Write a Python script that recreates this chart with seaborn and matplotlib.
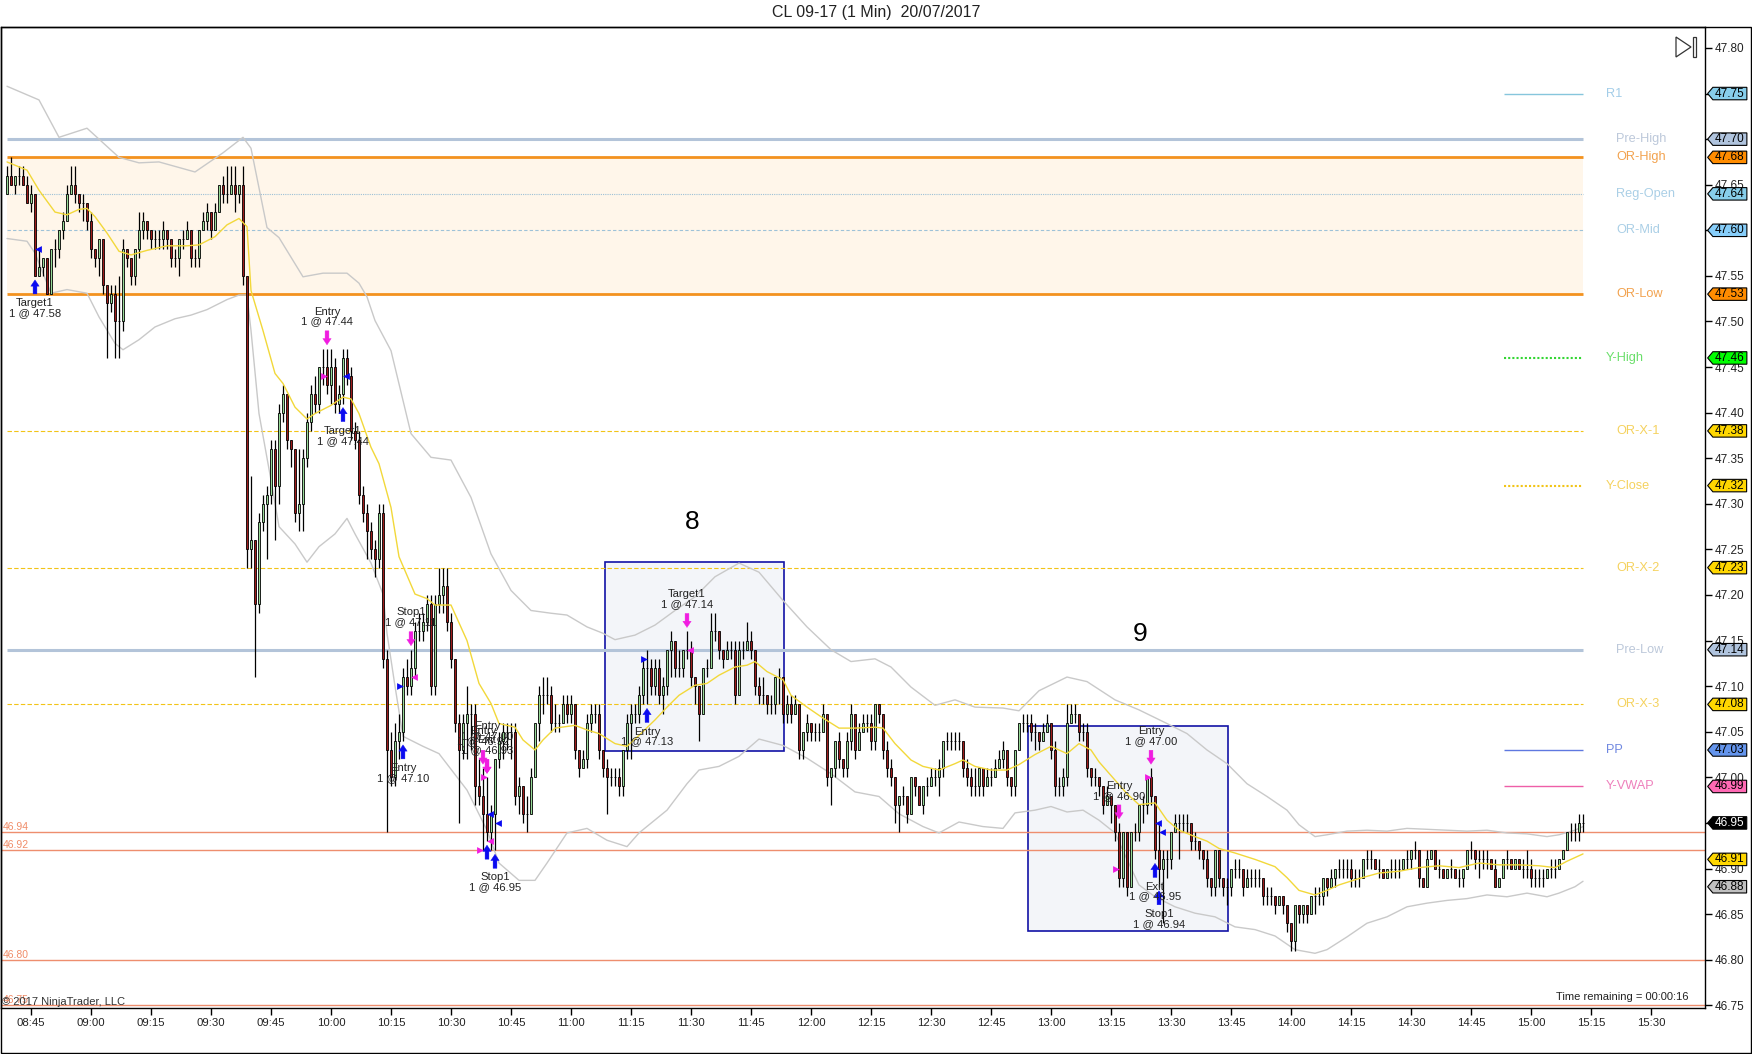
import numpy as np
import pandas as pd
import matplotlib
matplotlib.use("Agg")
import matplotlib.pyplot as plt
import matplotlib.transforms as mtransforms
from matplotlib.patches import Rectangle, Polygon
from matplotlib.path import Path
import seaborn as sns

# ---------------- data ----------------
# 1-minute bars from 08:39, prices in cents above 46.00
first_bar_time = "08:39"
first_open = 164
closes = [
    166, 165, 166, 166, 165, 163, 164, 155, 156, 157, 153, 158, 158, 160, 161,
    164, 165, 164, 163, 163, 161, 158, 157, 159, 154, 152, 153, 150, 150, 158,
    157, 155, 158, 160, 161, 160, 159, 159, 159, 160, 159, 157, 157, 159, 159,
    160, 157, 157, 160, 161, 162, 160, 162, 165, 164, 164, 165, 164, 165, 155,
    125, 126, 119, 128, 130, 131, 136, 132, 140, 142, 137, 136, 129, 130, 135,
    139, 142, 141, 145, 145, 143, 145, 141, 142, 146, 144, 138, 137, 131, 129,
    127, 125, 124, 129, 113, 103, 100, 104, 105, 111, 110, 112, 116, 116, 117,
    119, 110, 119, 120, 121, 117, 113, 106, 103, 106, 107, 107, 99, 98, 96,
    94, 96, 102, 104, 105, 105, 105, 98, 99, 96, 96, 100, 106, 109, 109,
    109, 106, 106, 106, 108, 107, 108, 103, 101, 102, 106, 107, 107, 103, 101,
    100, 100, 100, 99, 103, 106, 107, 107, 109, 112, 112, 110, 112, 109, 110,
    114, 115, 112, 112, 114, 114, 111, 110, 107, 112, 112, 116, 116, 114, 113,
    114, 114, 109, 114, 114, 115, 114, 110, 109, 109, 108, 108, 111, 111, 107,
    108, 107, 108, 103, 105, 106, 105, 105, 105, 107, 100, 101, 104, 102, 101,
    104, 107, 103, 105, 106, 106, 104, 108, 107, 103, 101, 100, 97, 98, 98,
    96, 100, 99, 97, 99, 99, 100, 100, 101, 104, 104, 104, 104, 104, 101,
    100, 99, 99, 101, 99, 100, 100, 101, 102, 103, 100, 99, 103, 106, 106,
    106, 105, 105, 104, 105, 106, 103, 99, 99, 100, 106, 107, 107, 105, 105,
    101, 100, 100, 99, 97, 98, 97, 94, 89, 94, 88, 94, 94, 97, 97,
    100, 98, 92, 90, 91, 91, 94, 95, 95, 95, 95, 93, 93, 92, 91,
    89, 88, 92, 89, 88, 88, 90, 90, 90, 88, 89, 89, 89, 89, 87,
    87, 87, 86, 87, 86, 84, 82, 86, 85, 86, 85, 87, 87, 87, 89,
    88, 89, 90, 90, 90, 90, 89, 89, 89, 91, 91, 91, 90, 90, 89,
    90, 90, 90, 90, 91, 91, 92, 92, 89, 88, 91, 92, 90, 90, 89,
    90, 90, 89, 89, 90, 92, 92, 91, 91, 91, 91, 90, 88, 89, 91,
    91, 90, 91, 90, 90, 90, 89, 89, 89, 89, 90, 90, 90, 91, 92,
    94, 94, 94, 95, 95,
]
highs = [
    167, 168, 166, 167, 167, 166, 165, 164, 158, 157, 157, 158, 159, 160, 162,
    165, 167, 167, 164, 164, 163, 162, 158, 159, 159, 154, 154, 154, 155, 159,
    158, 157, 158, 162, 162, 161, 160, 160, 160, 161, 160, 159, 158, 159, 160,
    161, 160, 158, 160, 162, 163, 162, 163, 165, 166, 167, 167, 167, 165, 167,
    155, 133, 126, 129, 131, 132, 137, 137, 141, 143, 142, 137, 136, 136, 136,
    140, 143, 144, 145, 147, 147, 147, 146, 143, 147, 147, 145, 139, 138, 132,
    130, 128, 126, 130, 130, 114, 105, 106, 107, 112, 113, 114, 117, 118, 118,
    120, 120, 120, 123, 123, 123, 118, 113, 107, 107, 110, 108, 108, 102, 101,
    100, 97, 102, 105, 106, 106, 106, 106, 100, 99, 98, 101, 106, 110, 111,
    111, 110, 108, 107, 109, 109, 109, 108, 103, 103, 107, 108, 108, 108, 102,
    102, 101, 101, 101, 103, 107, 108, 108, 110, 113, 114, 113, 113, 113, 111,
    114, 116, 115, 114, 114, 116, 115, 111, 110, 112, 113, 118, 118, 116, 114,
    115, 115, 115, 115, 115, 117, 116, 114, 111, 111, 109, 109, 111, 112, 111,
    109, 109, 109, 108, 105, 107, 106, 106, 106, 108, 107, 101, 104, 105, 102,
    105, 108, 107, 106, 107, 107, 107, 108, 108, 107, 104, 102, 100, 98, 99,
    98, 100, 100, 99, 99, 100, 101, 101, 102, 104, 105, 105, 105, 105, 104,
    102, 101, 101, 101, 101, 101, 101, 102, 103, 104, 103, 100, 103, 106, 107,
    107, 107, 106, 105, 106, 107, 106, 104, 100, 101, 108, 108, 108, 107, 106,
    106, 101, 101, 100, 99, 99, 98, 97, 95, 94, 94, 94, 95, 97, 98,
    100, 101, 98, 95, 92, 92, 94, 96, 96, 96, 96, 95, 94, 93, 92,
    92, 89, 92, 92, 89, 89, 90, 91, 91, 90, 90, 90, 90, 90, 89,
    88, 88, 87, 87, 87, 86, 84, 86, 86, 86, 86, 87, 88, 88, 89,
    89, 90, 90, 91, 91, 91, 91, 90, 90, 91, 92, 92, 91, 91, 90,
    90, 91, 91, 91, 91, 92, 92, 93, 92, 89, 92, 92, 92, 91, 90,
    90, 91, 90, 90, 90, 92, 93, 92, 92, 92, 92, 91, 91, 89, 91,
    92, 91, 91, 91, 91, 92, 91, 90, 90, 90, 90, 91, 91, 91, 92,
    94, 95, 95, 96, 96,
]
lows = [
    164, 165, 164, 165, 165, 163, 162, 155, 155, 155, 153, 153, 156, 157, 159,
    161, 164, 163, 162, 161, 160, 157, 156, 155, 153, 146, 151, 146, 146, 149,
    156, 154, 154, 157, 159, 159, 158, 158, 158, 158, 158, 156, 156, 155, 158,
    159, 156, 156, 156, 160, 160, 159, 160, 162, 163, 163, 164, 162, 163, 154,
    123, 123, 111, 118, 127, 124, 130, 126, 130, 139, 136, 134, 128, 127, 127,
    134, 138, 140, 140, 143, 142, 141, 140, 140, 141, 143, 137, 136, 130, 128,
    124, 124, 122, 123, 112, 94, 99, 99, 102, 104, 109, 109, 111, 115, 115,
    116, 109, 109, 118, 118, 116, 112, 105, 95, 102, 102, 103, 97, 97, 92,
    93, 92, 92, 101, 102, 103, 102, 97, 96, 95, 94, 96, 100, 104, 107,
    108, 105, 105, 105, 106, 106, 106, 102, 100, 101, 101, 105, 106, 102, 100,
    96, 99, 99, 98, 98, 102, 102, 106, 106, 108, 108, 109, 109, 108, 107,
    109, 111, 111, 111, 111, 113, 110, 108, 104, 107, 111, 112, 115, 113, 112,
    113, 113, 108, 109, 113, 114, 113, 109, 108, 108, 107, 107, 107, 108, 106,
    106, 106, 107, 102, 102, 104, 104, 104, 104, 105, 99, 97, 100, 101, 100,
    100, 103, 102, 103, 105, 105, 103, 103, 106, 102, 100, 99, 95, 94, 97,
    95, 96, 98, 97, 96, 98, 99, 99, 98, 100, 103, 103, 103, 103, 100,
    99, 98, 98, 98, 98, 99, 99, 100, 101, 101, 99, 98, 98, 103, 105,
    105, 104, 103, 103, 104, 105, 102, 98, 98, 98, 99, 106, 106, 104, 104,
    100, 99, 99, 98, 96, 97, 95, 93, 88, 88, 87, 88, 93, 93, 95,
    96, 97, 91, 88, 84, 89, 90, 94, 91, 94, 94, 92, 92, 91, 90,
    88, 87, 87, 88, 87, 86, 87, 89, 89, 87, 88, 88, 88, 88, 86,
    86, 86, 85, 86, 85, 83, 81, 81, 84, 84, 84, 85, 85, 86, 86,
    87, 88, 88, 89, 89, 89, 88, 88, 88, 89, 90, 90, 90, 89, 89,
    89, 89, 89, 89, 90, 90, 90, 91, 88, 88, 88, 91, 90, 89, 89,
    89, 89, 89, 88, 88, 90, 91, 90, 89, 90, 90, 90, 88, 88, 89,
    90, 90, 90, 90, 89, 89, 88, 88, 88, 88, 89, 89, 89, 90, 91,
    92, 93, 93, 93, 94,
]

# moving average (yellow) and channel (grey), read at sample bars, cents above 46.00
ma_bars = [0, 5, 8, 12, 15, 18, 20, 22, 25, 28, 31, 35, 40, 45, 48, 52, 55, 58, 60, 61,
           64, 67, 69, 72, 75, 77, 81, 84, 86, 88, 91, 93, 96, 98, 102, 105, 107, 111, 115, 118,
           121, 123, 127, 129, 132, 134, 137, 142, 145, 148, 152, 155, 158, 162, 165, 168, 172, 175, 178, 182,
           185, 187, 190, 194, 196, 200, 204, 208, 212, 217, 219, 222, 226, 229, 233, 237, 239, 242, 246, 250,
           253, 257, 261, 265, 268, 271, 273, 277, 280, 283, 287, 290, 293, 297, 300, 303, 307, 312, 317, 320,
           323, 327, 330, 333, 338, 343, 348, 353, 358, 363, 368, 373, 378, 383, 387, 390, 394]
ma_vals = [167.5, 166.6, 164.4, 162.0, 161.7, 162.3, 162.4, 161.5, 159.7, 157.7, 157.3, 157.8, 158.3, 158.3, 158.4, 159.3, 160.6, 161.3, 160.4, 153.4,
           149.0, 144.3, 143.2, 140.6, 139.3, 139.9, 140.8, 141.7, 141.5, 139.9, 136.2, 134.4, 129.6, 124.2, 120.1, 119.6, 118.9, 118.9, 115.0, 110.3,
           108.1, 105.9, 105.5, 104.1, 103.0, 104.1, 105.4, 105.7, 105.2, 104.8, 103.7, 103.4, 104.6, 106.3, 107.7, 109.0, 110.1, 110.3, 111.2, 112.1,
           112.3, 112.7, 111.6, 110.7, 109.0, 107.7, 106.5, 105.4, 105.4, 105.5, 105.4, 103.7, 101.9, 101.2, 100.8, 101.5, 101.9, 101.2, 100.8, 100.8,
           101.4, 102.5, 103.4, 102.6, 103.7, 103.0, 101.7, 99.7, 98.2, 97.0, 97.2, 95.3, 94.2, 93.5, 93.0, 92.2, 91.7, 91.0, 90.2, 89.0,
           87.6, 87.1, 87.6, 88.2, 88.9, 89.5, 89.7, 90.1, 90.3, 90.1, 90.6, 90.4, 90.4, 90.3, 90.1, 90.8, 91.6]
upper_bars = [0, 8, 13, 20, 28, 33, 38, 47, 54, 59, 61, 65, 68, 74, 79, 85, 88, 90, 92, 96,
              101, 106, 111, 116, 121, 126, 131, 136, 140, 145, 149, 152, 157, 162, 167, 172, 177, 183, 188, 194,
              200, 206, 211, 217, 221, 226, 232, 237, 242, 249, 253, 258, 265, 270, 277, 283, 290, 295, 300, 305,
              310, 315, 320, 323, 327, 330, 335, 340, 345, 350, 355, 360, 365, 370, 375, 380, 385, 388, 392, 394]
upper_vals = [175.8, 174.3, 170.2, 171.2, 168.0, 167.4, 167.5, 166.4, 168.5, 170.2, 169.0, 160.3, 159.2, 154.9, 155.3, 155.3, 154.2, 152.7, 150.1, 146.8,
              137.7, 135.1, 134.8, 130.7, 124.5, 120.5, 118.3, 118.0, 117.8, 116.5, 115.8, 115.1, 115.6, 116.7, 118.3, 119.8, 122.0, 123.5, 122.5, 119.4,
              116.5, 114.0, 112.7, 113.0, 112.1, 109.9, 107.9, 108.5, 107.7, 107.6, 107.3, 109.5, 111.0, 110.5, 108.5, 107.4, 105.9, 104.8, 103.0, 101.5,
              99.3, 97.9, 96.4, 94.8, 93.5, 93.7, 94.1, 94.2, 94.1, 94.4, 94.3, 94.2, 94.1, 94.2, 93.9, 93.8, 93.5, 93.7, 94.2, 94.6]
lower_bars = [0, 5, 7, 11, 15, 20, 23, 27, 29, 33, 37, 42, 46, 50, 55, 58, 60, 61, 63, 66,
              68, 72, 75, 78, 82, 85, 87, 91, 94, 95, 97, 99, 104, 108, 115, 120, 123, 128, 132, 135,
              140, 145, 150, 155, 158, 165, 170, 173, 178, 183, 188, 194, 200, 206, 212, 218, 223, 229, 233, 238,
              244, 249, 252, 257, 261, 265, 269, 273, 277, 280, 283, 287, 292, 297, 302, 307, 312, 317, 322, 327,
              330, 335, 340, 345, 350, 355, 360, 365, 370, 375, 380, 385, 388, 392, 394]
lower_vals = [159.1, 158.8, 157.5, 153.1, 153.5, 153.1, 150.5, 147.6, 146.9, 148.0, 149.4, 150.3, 150.7, 151.3, 152.4, 152.9, 152.9, 149.0, 139.9, 132.6,
              127.5, 125.6, 123.6, 125.3, 126.7, 128.4, 126.7, 123.5, 120.1, 115.8, 110.0, 104.5, 103.4, 102.6, 98.6, 94.2, 90.6, 88.7, 88.7, 90.6,
              93.9, 94.4, 93.1, 92.4, 93.9, 96.4, 99.3, 100.8, 101.2, 102.3, 104.2, 103.5, 102.1, 100.4, 98.4, 97.9, 96.0, 94.6, 93.9, 95.1,
              94.6, 94.4, 96.1, 96.4, 96.8, 96.2, 96.4, 95.3, 93.9, 91.0, 88.2, 86.9, 85.8, 85.1, 84.7, 83.6, 83.3, 82.6, 81.1, 80.7,
              81.1, 82.5, 84.0, 84.7, 85.8, 86.2, 86.5, 86.7, 87.1, 86.9, 87.3, 86.9, 87.3, 88.0, 88.6]

# key levels
level_names = ["R1", "Pre-High", "OR-High", "Reg-Open", "OR-Mid", "OR-Low", "Y-High",
               "OR-X-1", "Y-Close", "OR-X-2", "Pre-Low", "OR-X-3", "PP", "Y-VWAP"]
level_prices = [47.75, 47.70, 47.68, 47.64, 47.60, 47.53, 47.46,
                47.38, 47.32, 47.23, 47.14, 47.08, 47.03, 46.99]
opening_range = (47.53, 47.68)
marker_levels = [46.94, 46.92, 46.80, 46.75]

# price tags on the axis
tag_prices = [47.75, 47.70, 47.68, 47.64, 47.60, 47.53, 47.46, 47.38, 47.32,
              47.23, 47.14, 47.08, 47.03, 46.99, 46.95, 46.91, 46.88]

# executions ("" = fill without its own label)
trade_bars = [7, 80, 84, 99, 101, 119, 120, 120, 120, 122, 160, 170, 278, 286, 287, 288]
trade_prices = [47.58, 47.44, 47.44, 47.10, 47.11, 46.92, 46.93, 47.00, 46.96, 46.95,
                47.13, 47.14, 46.90, 47.00, 46.95, 46.94]
trade_sides = ["buy", "sell", "buy", "buy", "sell", "sell", "sell", "sell", "buy", "buy",
               "buy", "sell", "sell", "sell", "buy", "buy"]
trade_names = ["Target1", "Entry", "Target1", "Entry", "Stop1", "Entry", "Exit", "Entry", "", "Stop1",
               "Entry", "Target1", "Entry", "Entry", "Exit", "Stop1"]

# rectangles drawn on chart
box_bars = [(149.4, 194.35), (255.3, 305.3)]
box_prices = [(47.029, 47.236), (46.832, 47.056)]
box_names = ["8", "9"]
box_label_bars = [171.25, 283.2]
box_label_prices = [47.28, 47.157]

time_labels = ["08:45", "09:00", "09:15", "09:30", "09:45", "10:00", "10:15", "10:30",
               "10:45", "11:00", "11:15", "11:30", "11:45", "12:00", "12:15", "12:30",
               "12:45", "13:00", "13:15", "13:30", "13:45", "14:00", "14:15", "14:30",
               "14:45", "15:00", "15:15", "15:30"]
price_ticks = [46.75, 46.80, 46.85, 46.90, 46.95, 47.00, 47.05, 47.10, 47.15, 47.20, 47.25,
               47.30, 47.35, 47.40, 47.45, 47.50, 47.55, 47.60, 47.65, 47.70, 47.75, 47.80]

# ---------------- styles ----------------
level_style = {
    "R1":       dict(c="#86C6DC", t="#A3CDE8", lw=1.0, ls="-", short=True),
    "Pre-High": dict(c="#B3C4D9", t="#BCC8DA", lw=2.2, ls="-", short=False),
    "OR-High":  dict(c="#F3921E", t="#F2A24E", lw=2.0, ls="-", short=False),
    "Reg-Open": dict(c="#9CC0D6", t="#AACFE6", lw=0.8, ls=(0, (1, 1)), short=False),
    "OR-Mid":   dict(c="#9EC2D8", t="#AACFE6", lw=0.8, ls=(0, (3, 2)), short=False),
    "OR-Low":   dict(c="#F3921E", t="#F2A24E", lw=2.0, ls="-", short=False),
    "Y-High":   dict(c="#33D633", t="#6ADF6A", lw=1.5, ls=(0, (1, 1)), short=True),
    "OR-X-1":   dict(c="#F2C417", t="#F5D25E", lw=0.8, ls=(0, (4, 2)), short=False),
    "Y-Close":  dict(c="#F2C417", t="#F5D25E", lw=1.5, ls=(0, (1, 1)), short=True),
    "OR-X-2":   dict(c="#F2C417", t="#F5D25E", lw=0.8, ls=(0, (4, 2)), short=False),
    "Pre-Low":  dict(c="#B3C4D9", t="#BCC8DA", lw=2.2, ls="-", short=False),
    "OR-X-3":   dict(c="#F2C417", t="#F5D25E", lw=0.8, ls=(0, (4, 2)), short=False),
    "PP":       dict(c="#5E78E0", t="#7088E0", lw=1.0, ls="-", short=True),
    "Y-VWAP":   dict(c="#EE5FA8", t="#EE80BC", lw=1.0, ls="-", short=True),
}
tag_colors = ["#87CEEB", "#B0C4DE", "#FF8C00", "#87CEEB", "#87CEFA", "#FF8C00", "#00FF00",
              "#FFD700", "#FFD700", "#FFD700", "#B0C4DE", "#FFD700", "#6495ED", "#FF69B4",
              "black", "#FFD700", "#C0C0C0"]
UP, DOWN = "#97D997", "#9E1B1B"
SALMON = "#EE8E6E"
BUY, SELL = "#0A0AF0", "#F01CE0"

sns.set_theme(style="white")
plt.rcParams["font.family"] = ["Liberation Sans", "DejaVu Sans"]

W, H = 1752, 1054
fig = plt.figure(figsize=(W / 100, H / 100), dpi=100)
ax = fig.add_axes([1 / W, 1 - 1008 / H, 1704 / W, 981 / H])
ax.set_facecolor("white")


def to_price(v):
    return 46.0 + np.asarray(v, dtype=float) / 100.0


def bar_of(t):
    h, m = map(int, t.split(":"))
    h0, m0 = map(int, first_bar_time.split(":"))
    return (h * 60 + m) - (h0 * 60 + m0)


def tag_shape(x0, y0, width, height, mutation_size):
    # box with a pointed left end, like the platform's price markers
    px, py = 0.18 * mutation_size, 0.02 * mutation_size
    x0, y0 = x0 - px, y0 - py
    x1, y1 = x0 + width + 2 * px, y0 + height + 2 * py
    tip = 0.42 * (y1 - y0)
    verts = [(x0, y0), (x1, y0), (x1, y1), (x0, y1), (x0 - tip, 0.5 * (y0 + y1)), (x0, y0)]
    return Path(verts, [Path.MOVETO] + [Path.LINETO] * 4 + [Path.CLOSEPOLY])


n = len(closes)
bars = np.arange(n)
o = to_price([first_open] + closes[:-1])
c = to_price(closes)
hi = np.maximum(to_price(highs), np.maximum(o, c))
lo = np.minimum(to_price(lows), np.minimum(o, c))
last_bar = bars[-1]

# opening range shading and level lines
ax.fill_between([0, last_bar], opening_range[0], opening_range[1], color="#FFF6EA", lw=0, zorder=1)
for name, p in zip(level_names, level_prices):
    st = level_style[name]
    x0 = last_bar - 19.75 if st["short"] else 0
    ax.hlines(p, x0, last_bar, colors=st["c"], lw=st["lw"], linestyles=st["ls"], zorder=2)
    ax.text(last_bar + (5.75 if st["short"] else 8.25), p, name, color=st["t"],
            fontsize=9.2, va="center", ha="left", zorder=7)

blend = mtransforms.blended_transform_factory(ax.transAxes, ax.transData)
for p in marker_levels:
    ax.axhline(p, color=SALMON, lw=1.0, zorder=2)
    ax.text(0.0008, p, f"{p:.2f}", transform=blend, color="#F08C68", fontsize=7.5,
            va="bottom", ha="left", zorder=7)

# drawn boxes
for (b0, b1), (p0, p1), name, lb, lp in zip(box_bars, box_prices, box_names,
                                            box_label_bars, box_label_prices):
    ax.add_patch(Rectangle((b0, p0), b1 - b0, p1 - p0, fc="#F3F5F9", ec="#1212A6",
                           lw=1.2, zorder=1.5))
    ax.text(lb, lp, name, fontsize=19, ha="center", va="center", color="black", zorder=7)

# channel and moving average
sns.lineplot(x=upper_bars, y=to_price(upper_vals), ax=ax, color="#C9C9C9", linewidth=1.0, zorder=3)
sns.lineplot(x=lower_bars, y=to_price(lower_vals), ax=ax, color="#C9C9C9", linewidth=1.0, zorder=3)

# candles
ax.vlines(bars, lo, hi, colors="black", lw=0.9, zorder=4)
body_col = np.where(c > o, UP, DOWN)
ax.bar(bars, c - o, bottom=o, width=0.72, color=body_col, edgecolor="black",
       linewidth=0.6, zorder=4.2)

sns.lineplot(x=ma_bars, y=to_price(ma_vals), ax=ax, color="#F2D83A", linewidth=1.0, zorder=5)

# executions
stack = {}
for k, p, side, name in zip(trade_bars, trade_prices, trade_sides, trade_names):
    col = BUY if side == "buy" else SELL
    sgn = -1 if side == "buy" else 1
    anchor = lo[k] if side == "buy" else hi[k]
    tip = mtransforms.offset_copy(ax.transData, fig=fig, x=0, y=sgn * 4, units="dots")
    tail = mtransforms.offset_copy(ax.transData, fig=fig, x=0, y=sgn * 18, units="dots")
    ax.annotate("", xy=(k, anchor), xycoords=tip, xytext=(k, anchor), textcoords=tail,
                arrowprops=dict(arrowstyle="simple,head_length=0.9,head_width=1.2,tail_width=0.55",
                                fc=col, ec=col, lw=0.3, shrinkA=0, shrinkB=0, mutation_scale=5),
                zorder=6, annotation_clip=False)
    if name:
        level = stack.get((k, side), 0)
        stack[(k, side)] = level + 1
        ax.annotate(f"{name}\n1 @ {p:.2f}", xy=(k, anchor), xytext=(0, sgn * (16 + 10 * level)),
                    textcoords="offset points", ha="center",
                    va="top" if side == "buy" else "bottom",
                    fontsize=8.1, linespacing=1.0, color="#222222", zorder=7)
    entry = name == "Entry"
    ax.scatter([k - 0.8 if entry else k + 0.8], [p], marker=">" if entry else "<",
               s=24, color=col, linewidths=0, zorder=6)

# axes
ax.set_xlim(-1.5, 424.5)
ax.set_ylim(46.747, 47.823)
ax.set_xticks([bar_of(t) for t in time_labels])
ax.set_xticklabels(time_labels)
ax.yaxis.tick_right()
ax.set_yticks(price_ticks)
ax.set_yticklabels([f"{p:.2f}" for p in price_ticks])
ax.tick_params(axis="x", direction="out", length=5, width=1, color="black",
               labelsize=8.2, pad=2, labelcolor="#222222", bottom=True)
ax.tick_params(axis="y", direction="out", length=5, width=1, color="black",
               labelsize=8.5, pad=2, labelcolor="#222222", right=True, left=False)
for s in ax.spines.values():
    s.set_color("black")
    s.set_linewidth(1.0)
ax.grid(False)
ax.set_xlabel("")
ax.set_ylabel("")

# price tags
for p, col in zip(tag_prices, tag_colors):
    ax.text((1715 - 1) / 1704, p, f"{p:.2f}", transform=blend, fontsize=8.5, va="center",
            ha="left", color="white" if col == "black" else "black", clip_on=False, zorder=10,
            bbox=dict(boxstyle=tag_shape, fc=col, ec="black", lw=0.8))

# chrome
fig.text(0.5, 1 - 13 / H, "CL 09-17 (1 Min)  20/07/2017", ha="center", va="center",
         fontsize=11.5, color="#222222")
fig.text(2 / W, 1 - 1002 / H, "\u00a9 2017 NinjaTrader, LLC", ha="left", va="center",
         fontsize=8, color="#333333")
fig.text(1689 / W, 1 - 997 / H, "Time remaining = 00:00:16", ha="right", va="center",
         fontsize=8, color="#222222")
fig.patches.append(Rectangle((1 / W, 1 / H), 1750 / W, 1 - 27 / H - 1 / H, fill=False,
                             ec="black", lw=1.0, transform=fig.transFigure, figure=fig))
fig.patches.append(Polygon([(1676 / W, 1 - 37 / H), (1691 / W, 1 - 47 / H), (1676 / W, 1 - 57 / H)],
                           closed=True, fill=False, ec="#333333", lw=0.9,
                           transform=fig.transFigure, figure=fig))
fig.patches.append(Rectangle((1693 / W, 1 - 57 / H), 3 / W, 20 / H, fill=False, ec="#333333",
                             lw=0.9, transform=fig.transFigure, figure=fig))

fig.savefig("out.png", dpi=100)
